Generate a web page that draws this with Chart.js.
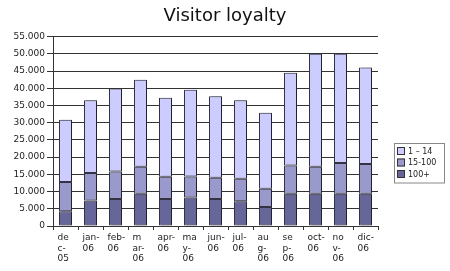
<!DOCTYPE html>
<html>
<head>
<meta charset="utf-8">
<script src="https://cdn.jsdelivr.net/npm/chart.js@4"></script>
<style>
  html, body { margin: 0; padding: 0; background: #fff; }
  #wrap { width: 450px; height: 271px; }
</style>
</head>
<body>
<div id="wrap"><canvas id="loyaltyChart" width="450" height="271"></canvas></div>
<script>
// months, split the way the original wraps them
const months = [
    ['de', 'c-', '05'], ['jan-', '06'], ['feb-', '06'], ['m', 'ar-', '06'],
    ['apr-', '06'], ['ma', 'y-', '06'], ['jun-', '06'], ['jul-', '06'],
    ['au', 'g-', '06'], ['se', 'p-', '06'], ['oct-', '06'], ['no', 'v-', '06'],
    ['dic-', '06']
];

// visitors per segment (stacked, bottom to top)
const visits100plus = [4250, 7400, 7850, 9400, 7850, 8300, 7850, 7200, 5500, 9400, 9400, 9400, 9400];
const visits15to100 = [8550, 8000, 7950, 7800, 6450, 6100, 6150, 6500, 5300, 8200, 7800, 8900, 8600];
const visits1to14 = [18050, 21100, 24100, 25300, 22950, 25200, 23700, 22800, 22100, 26900, 32800, 31700, 28000];

const yMax = 55000;
const yStep = 5000;

const FONT = 'DejaVu Sans';

function formatThousands(v) {
    return String(v).replace(/\B(?=(\d{3})+(?!\d))/g, '.');
}

// little drop shadow on the right of the bars
const barShadow = {
    id: 'barShadow',
    beforeDatasetsDraw(chart) {
        const ctx = chart.ctx;
        ctx.save();
        ctx.shadowColor = 'rgba(0, 0, 0, 0.3)';
        ctx.shadowOffsetX = 2;
        ctx.shadowOffsetY = 0;
        ctx.shadowBlur = 0;
    },
    afterDatasetsDraw(chart) {
        chart.ctx.restore();
    }
};

// boxed legend to the right of the plot
const boxedLegend = {
    id: 'boxedLegend',
    afterDraw(chart) {
        const ctx = chart.ctx;
        const sets = chart.data.datasets.slice().reverse();
        const left = chart.chartArea.right + 16;
        const top = 143;
        const rowH = 11.5;
        const w = 50;
        const h = sets.length * rowH + 5;

        ctx.save();
        ctx.fillStyle = '#fff';
        ctx.fillRect(left, top, w, h);
        ctx.strokeStyle = '#888';
        ctx.lineWidth = 1;
        ctx.strokeRect(left + 0.5, top + 0.5, w, h);

        ctx.font = '8px "' + FONT + '"';
        ctx.textBaseline = 'middle';
        sets.forEach((ds, i) => {
            const cy = top + 8 + i * rowH;
            ctx.fillStyle = ds.backgroundColor;
            ctx.fillRect(left + 3, cy - 4, 8, 8);
            ctx.strokeStyle = '#333';
            ctx.strokeRect(left + 3.5, cy - 3.5, 7, 7);
            ctx.fillStyle = '#222';
            ctx.fillText(ds.label, left + 14, cy + 0.5);
        });
        ctx.restore();
    }
};

const ctx = document.getElementById('loyaltyChart').getContext('2d');

const barStyle = {
    borderColor: '#333344',
    borderWidth: 1,
    borderSkipped: false,
    categoryPercentage: 1,
    barPercentage: 0.52
};

new Chart(ctx, {
    type: 'bar',
    data: {
        labels: months,
        datasets: [
            Object.assign({ label: '100+', data: visits100plus, backgroundColor: '#666699' }, barStyle),
            Object.assign({ label: '15-100', data: visits15to100, backgroundColor: '#9999cc' }, barStyle),
            Object.assign({ label: '1 \u2013 14', data: visits1to14, backgroundColor: '#ccccff' }, barStyle)
        ]
    },
    options: {
        responsive: false,
        animation: false,
        devicePixelRatio: 1,
        layout: {
            padding: 0
        },
        plugins: {
            legend: { display: false },
            tooltip: { enabled: false },
            title: {
                display: true,
                text: 'Visitor loyalty',
                color: '#111',
                font: { family: FONT, size: 18, weight: 'normal' },
                padding: { top: 6, bottom: 9 }
            }
        },
        scales: {
            x: {
                stacked: true,
                offset: true,
                grid: {
                    display: true,
                    offset: true,
                    drawOnChartArea: false,
                    drawTicks: true,
                    tickLength: 4,
                    color: '#333'
                },
                border: { display: true, color: '#333', width: 1 },
                ticks: {
                    color: '#222',
                    font: { family: FONT, size: 9 },
                    align: 'start',
                    labelOffset: -8,
                    padding: 2,
                    maxRotation: 0,
                    autoSkip: false
                },
                afterFit(scale) {
                    scale.height = 45;
                }
            },
            y: {
                stacked: true,
                min: 0,
                max: yMax,
                grid: {
                    color: '#333',
                    lineWidth: 1,
                    tickLength: 6
                },
                border: { display: true, color: '#333', width: 1 },
                ticks: {
                    stepSize: yStep,
                    color: '#222',
                    font: { family: FONT, size: 9 },
                    padding: 2,
                    callback: function(value) {
                        return formatThousands(value);
                    }
                },
                afterFit(scale) {
                    scale.width = 53;
                }
            },
            // empty axis on the right, keeps room for the legend box
            legendSpace: {
                position: 'right',
                display: true,
                grid: { display: false, drawTicks: false },
                border: { display: false },
                ticks: { display: false },
                afterFit(scale) {
                    scale.width = 72;
                }
            }
        }
    },
    plugins: [barShadow, boxedLegend]
});
</script>
</body>
</html>
